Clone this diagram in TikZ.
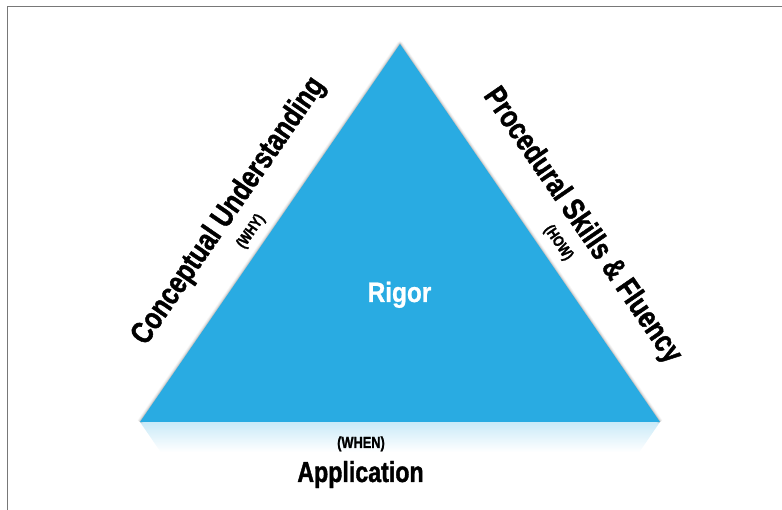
\documentclass[tikz,border=0pt]{standalone}
\usepackage{fontspec}
\setmainfont{Liberation Sans}
\newfontfamily\cond[FakeStretch=0.8,FakeBold=1.3]{Liberation Sans}
\newfontfamily\condb[FakeStretch=0.87,FakeBold=0.8]{Liberation Sans}
\definecolor{rigblue}{RGB}{41,171,226}
\definecolor{framegray}{RGB}{120,120,120}
\tikzset{
  sidelabel/.style={font=\cond\bfseries\fontsize{31}{31}\selectfont, inner sep=0pt, text=black},
  sublabel/.style={font=\cond\bfseries\fontsize{15.5}{15.5}\selectfont, inner sep=0pt, text=black},
  edgeshadow/.style={draw=black, line join=round},
}
\begin{document}
\begin{tikzpicture}[x=1pt,y=-1pt]
\useasboundingbox (0,0) rectangle (782,510);
% frame
\draw[framegray, line width=1.5pt] (7.5,510) -- (7.5,6.5) -- (782,6.5);
% corners
\coordinate (L) at (140,422);
\coordinate (T) at (400,44);
\coordinate (R) at (660,422);
% reflection
\shade[top color=rigblue!25, bottom color=white] (L) -- (R) -- (639.4,452) -- (160.6,452) -- cycle;
% soft shadow along upper sides
\foreach \w/\o in {6/0.03,4.5/0.04,3.2/0.05,2/0.07,1/0.08}{
  \draw[edgeshadow, line width=\w pt, opacity=\o] (L) -- (T) -- (R);
}
% triangle
\fill[rigblue] (L) -- (T) -- (R) -- cycle;
% labels
\node[sidelabel, rotate=55.5] (cu) at (229,211.3) {Conceptual Understanding};
\node[sublabel, rotate=55.5] (why) at (251.2,231.6) {(WHY)};
\node[sidelabel, rotate=-55.5] (ps) at (582.1,225.8) {Procedural Skills \& Fluency};
\node[sublabel, rotate=-55.5] (how) at (558.2,243) {(HOW)};
\node[font=\condb\bfseries\fontsize{28}{28}\selectfont, text=white, inner sep=0pt, anchor=base] (rig) at (399.5,302) {Rigor};
\node[font=\cond\bfseries\fontsize{16}{16}\selectfont, inner sep=0pt, anchor=base] (when) at (361,448) {(WHEN)};
\node[font=\cond\bfseries\fontsize{29}{29}\selectfont, inner sep=0pt, anchor=base] (app) at (360.5,482) {Application};
\end{tikzpicture}
\end{document}
